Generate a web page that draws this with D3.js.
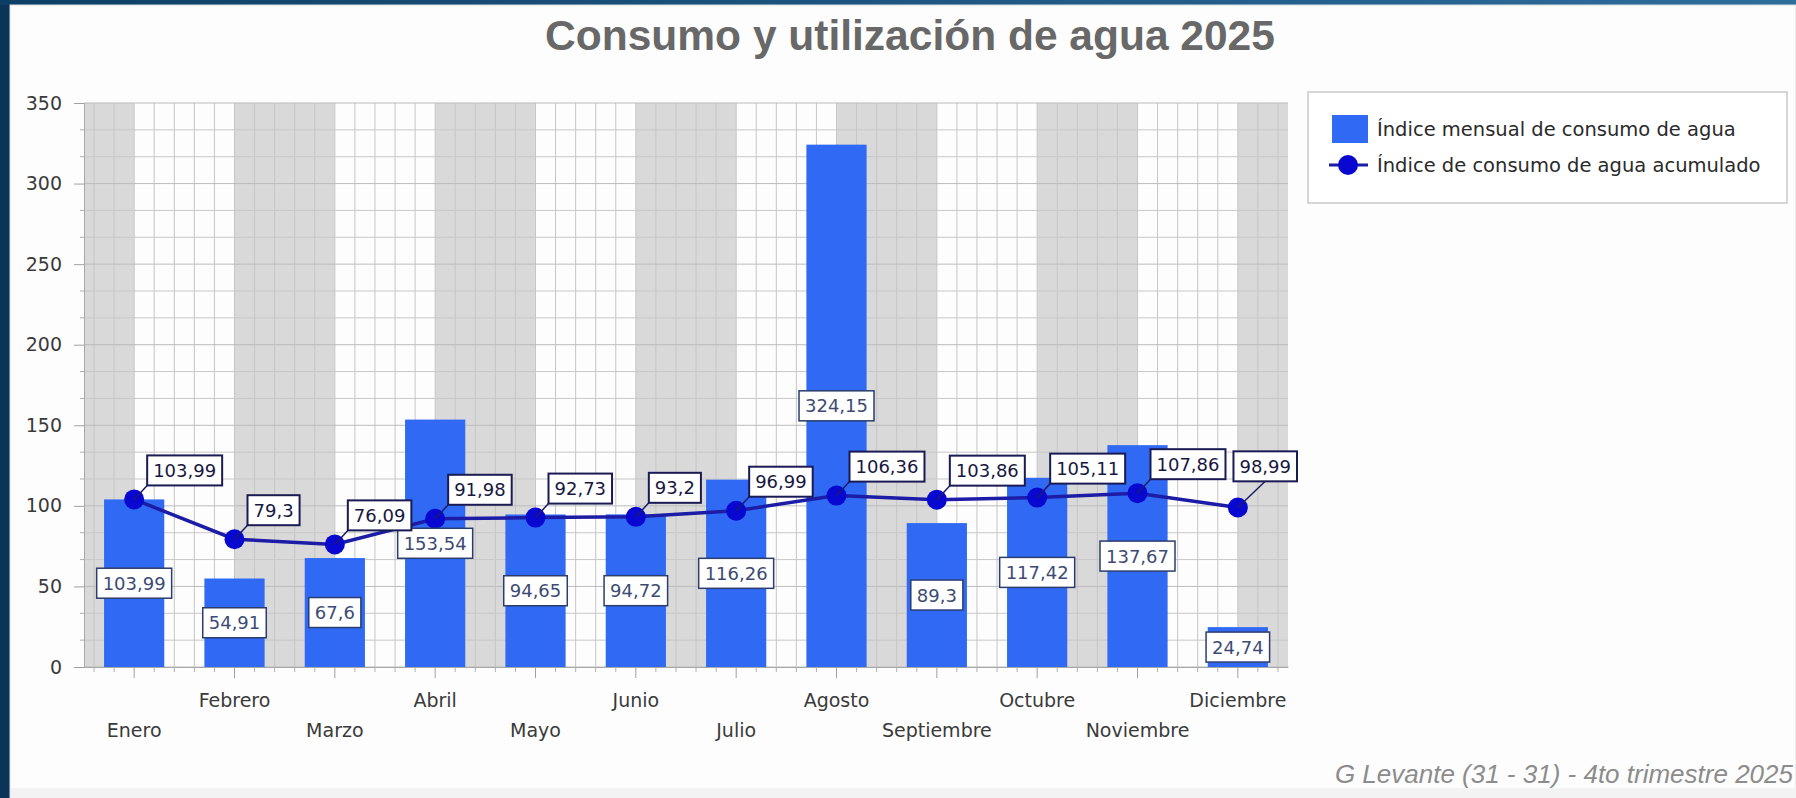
<!doctype html>
<html lang="es">
<head>
<meta charset="utf-8">
<title>Consumo y utilización de agua 2025</title>
<script src="https://cdn.jsdelivr.net/npm/d3@7"></script>
<style>
  body { margin: 0; background: #0b3a5f; }
  svg { display: block; }
</style>
</head>
<body>
<svg id="chart" width="1796" height="798"></svg>
<script>
// datos
var meses = ["Enero", "Febrero", "Marzo", "Abril", "Mayo", "Junio", "Julio",
             "Agosto", "Septiembre", "Octubre", "Noviembre", "Diciembre"];
var mensual = [103.99, 54.91, 67.6, 153.54, 94.65, 94.72, 116.26, 324.15, 89.3, 117.42, 137.67, 24.74];
var acumulado = [103.99, 79.3, 76.09, 91.98, 92.73, 93.2, 96.99, 106.36, 103.86, 105.11, 107.86, 98.99];
var yTicks = [0, 50, 100, 150, 200, 250, 300, 350];
var serieNombres = ["Índice mensual de consumo de agua", "Índice de consumo de agua acumulado"];
var titulo = "Consumo y utilización de agua 2025";
var pie = "G Levante (31 - 31) - 4to trimestre 2025";

var W = 1796, H = 798;
var pLeft = 84, pRight = 1288, pTop = 103, pBottom = 667;

var barColor = "#2f69f4";
var lineColor = "#1c1ca6";
var dotColor = "#0808d0";
var axisFont = "'DejaVu Sans', Verdana, sans-serif";

var svg = d3.select("#chart");

// marco
var grad = svg.append("defs").append("linearGradient").attr("id", "topbar")
  .attr("x1", 0).attr("x2", 1).attr("y1", 0).attr("y2", 0);
grad.append("stop").attr("offset", "0%").attr("stop-color", "#0d3f66");
grad.append("stop").attr("offset", "100%").attr("stop-color", "#2d6d9d");

svg.append("rect").attr("width", W).attr("height", H).attr("fill", "#0a3558");
svg.append("rect").attr("width", W).attr("height", 5).attr("fill", "url(#topbar)");
svg.append("rect").attr("x", 10).attr("y", 5).attr("width", W - 10).attr("height", H - 5)
  .attr("fill", "#fdfdfd").attr("stroke", "#dcdcdc");
svg.append("rect").attr("x", 11).attr("y", 788).attr("width", W - 11).attr("height", 10).attr("fill", "#f3f3f3");

var x = d3.scaleBand().domain(meses).range([pLeft, pRight]).padding(0);
var y = d3.scaleLinear().domain([0, 350]).range([pBottom, pTop]);
var step = x.step();
var cx = function(m) { return x(m) + step / 2; };

// franjas grises entre marcas
var franjas = [[pLeft, cx(meses[0])]];
for (var i = 1; i < meses.length; i += 2) {
  var fin = i + 1 < meses.length ? cx(meses[i + 1]) : pRight;
  franjas.push([cx(meses[i]), fin]);
}
svg.append("g").selectAll("rect").data(franjas).enter().append("rect")
  .attr("x", function(d) { return d[0]; })
  .attr("y", pTop)
  .attr("width", function(d) { return d[1] - d[0]; })
  .attr("height", pBottom - pTop)
  .attr("fill", "#d9d9d9");

// rejilla
var grid = svg.append("g");
var xs = d3.range(-2, meses.length * 5 + 3).map(function(k) { return cx(meses[0]) + k * step / 5; })
  .filter(function(v) { return v > pLeft + 1 && v < pRight - 1; });
grid.selectAll(".vx").data(xs).enter().append("line")
  .attr("x1", function(d) { return d; }).attr("x2", function(d) { return d; })
  .attr("y1", pTop).attr("y2", pBottom)
  .attr("stroke", "#c6c6c6").attr("stroke-width", 1);
var ys = d3.range(0, 22).map(function(k) { return k * 50 / 3; });
grid.selectAll(".hy").data(ys).enter().append("line")
  .attr("x1", pLeft).attr("x2", pRight)
  .attr("y1", function(d) { return y(d); }).attr("y2", function(d) { return y(d); })
  .attr("stroke", function(d, i) { return i % 3 == 0 ? "#bcbcbc" : "#c8c8c8"; })
  .attr("stroke-width", 1);

// eje y
var yAxis = svg.append("g").attr("transform", "translate(" + pLeft + ",0)")
  .call(d3.axisLeft(y).tickValues(yTicks).tickSize(10).tickPadding(12));
yAxis.select(".domain").attr("stroke", "#a8a8a8");
yAxis.selectAll(".tick line").attr("stroke", "#a0a0a0");
yAxis.selectAll("text").attr("font-family", axisFont).attr("font-size", 19).attr("fill", "#3a3a3a");
svg.append("g").selectAll("line").data(ys.filter(function(d, i) { return i % 3 != 0; })).enter().append("line")
  .attr("x1", pLeft - 4).attr("x2", pLeft)
  .attr("y1", function(d) { return y(d); }).attr("y2", function(d) { return y(d); })
  .attr("stroke", "#b0b0b0");

// eje x
var xAxis = svg.append("g").attr("transform", "translate(0," + pBottom + ")")
  .call(d3.axisBottom(x).tickSize(11).tickSizeOuter(0));
xAxis.select(".domain").attr("stroke", "#a8a8a8");
xAxis.selectAll(".tick line").attr("stroke", "#a0a0a0");
xAxis.selectAll("text")
  .attr("font-family", axisFont).attr("font-size", 19).attr("fill", "#3a3a3a")
  .attr("y", function(d, i) { return i % 2 == 0 ? 63 : 33; })
  .attr("dy", "0.35em");
svg.append("g").selectAll("line").data(xs.filter(function(v, k) { return (k + 3) % 5 != 0; })).enter().append("line")
  .attr("x1", function(d) { return d; }).attr("x2", function(d) { return d; })
  .attr("y1", pBottom).attr("y2", pBottom + 5)
  .attr("stroke", "#b0b0b0");

// barras
var barW = step * 0.6;
svg.append("g").selectAll("rect").data(mensual).enter().append("rect")
  .attr("x", function(d, i) { return cx(meses[i]) - barW / 2; })
  .attr("y", function(d) { return y(d); })
  .attr("width", barW)
  .attr("height", function(d) { return pBottom - y(d); })
  .attr("fill", barColor);

// linea acumulada
var linea = d3.line()
  .x(function(d, i) { return cx(meses[i]); })
  .y(function(d) { return y(d); });
svg.append("path").datum(acumulado)
  .attr("d", linea)
  .attr("fill", "none").attr("stroke", lineColor).attr("stroke-width", 3.5);
svg.append("g").selectAll("circle").data(acumulado).enter().append("circle")
  .attr("cx", function(d, i) { return cx(meses[i]); })
  .attr("cy", function(d) { return y(d); })
  .attr("r", 10)
  .attr("fill", dotColor);

function fmt(v) { return String(v).replace(".", ","); }

// etiquetas de barras (centradas en la barra)
var lblFont = 18, padX = 6, boxH = 30;
var barLbl = svg.append("g");
mensual.forEach(function(v, i) {
  var g = barLbl.append("g");
  var t = g.append("text").text(fmt(v))
    .attr("font-family", axisFont).attr("font-size", lblFont).attr("fill", "#3d4b74")
    .attr("text-anchor", "middle").attr("dy", "0.36em")
    .attr("x", cx(meses[i])).attr("y", (y(v) + pBottom) / 2);
  var w = t.node().getComputedTextLength() + padX * 2;
  g.insert("rect", "text")
    .attr("x", cx(meses[i]) - w / 2).attr("y", (y(v) + pBottom) / 2 - boxH / 2)
    .attr("width", w).attr("height", boxH)
    .attr("fill", "#fff").attr("stroke", "#2b3d6e").attr("stroke-width", 1.5);
});

// etiquetas de la linea (arriba a la derecha del punto)
var lineLbl = svg.append("g");
acumulado.forEach(function(v, i) {
  var px = cx(meses[i]), py = y(v);
  var g = lineLbl.append("g");
  var t = g.append("text").text(fmt(v))
    .attr("font-family", axisFont).attr("font-size", lblFont).attr("fill", "#17173f")
    .attr("dy", "0.36em");
  var w = t.node().getComputedTextLength() + padX * 2;
  var bx = px + 13, by = py - 14;
  var over = bx + w - (pRight + 9);
  if (over > 0) { bx -= over; by -= over * 0.7; }
  g.insert("line", "text")
    .attr("x1", px).attr("y1", py)
    .attr("x2", over > 0 ? bx + w / 2 : bx).attr("y2", by)
    .attr("stroke", "#1c1c6a").attr("stroke-width", 1.5);
  g.insert("rect", "text")
    .attr("x", bx).attr("y", by - boxH).attr("width", w).attr("height", boxH)
    .attr("fill", "#fff").attr("stroke", "#1a1a55").attr("stroke-width", 2);
  t.attr("x", bx + padX).attr("y", by - boxH / 2);
});

// titulo
svg.append("text").text(titulo)
  .attr("x", 910).attr("y", 50)
  .attr("text-anchor", "middle")
  .attr("font-family", "'Liberation Sans', Arial, sans-serif")
  .attr("font-weight", "bold").attr("font-size", 42.5)
  .attr("fill", "#686868");

// leyenda
var leg = svg.append("g");
leg.append("rect").attr("x", 1308).attr("y", 92).attr("width", 479).attr("height", 111)
  .attr("fill", "#fff").attr("stroke", "#c9c9c9").attr("stroke-width", 1.5);
leg.append("rect").attr("x", 1332).attr("y", 115).attr("width", 36).attr("height", 28).attr("fill", barColor);
leg.append("line").attr("x1", 1329).attr("x2", 1368).attr("y1", 165).attr("y2", 165)
  .attr("stroke", lineColor).attr("stroke-width", 3);
leg.append("circle").attr("cx", 1348).attr("cy", 165).attr("r", 10).attr("fill", dotColor);
leg.selectAll(".lt").data(serieNombres).enter().append("text")
  .text(function(d) { return d; })
  .attr("x", 1377).attr("y", function(d, i) { return i == 0 ? 129 : 165; })
  .attr("dy", "0.35em")
  .attr("font-family", axisFont).attr("font-size", 19.5)
  .attr("fill", "#2a2a2a");

// pie
svg.append("text").text(pie)
  .attr("x", 1793).attr("y", 783)
  .attr("text-anchor", "end")
  .attr("font-family", "'Liberation Sans', Arial, sans-serif")
  .attr("font-style", "italic").attr("font-size", 26)
  .attr("fill", "#8c8c8c");
</script>
</body>
</html>
